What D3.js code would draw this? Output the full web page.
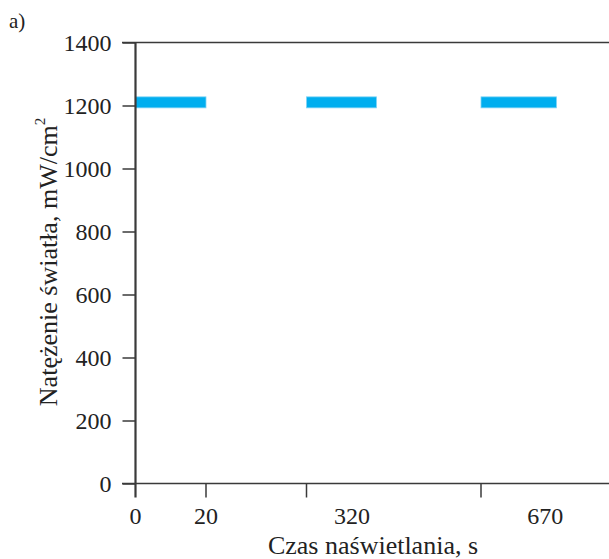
<!DOCTYPE html>
<html>
<head>
<meta charset="utf-8">
<script src="https://cdn.jsdelivr.net/npm/d3@7"></script>
<style>
  body { margin: 0; background: #fff; }
  svg text { font-family: "Liberation Serif", "DejaVu Serif", serif; fill: #222; }
</style>
</head>
<body>
<div id="chart"></div>
<script>
////////////////////////////////////////////////////
// data
////////////////////////////////////////////////////
var segStart = [0, 300, 650];          // s, start of each lit period (axis is broken)
var segEnd   = [20, 320, 670];         // s, end of each lit period
var intensity = [1210, 1210, 1210];    // mW/cm2
var xTickMarks = [0, 20, 300, 650];
var xTickValues = [0, 20, 313, 667];
var xTickLabels = ["0", "20", "320", "670"];
var yTicks = [0, 200, 400, 600, 800, 1000, 1200, 1400];
////////////////////////////////////////////////////

var W = 609, H = 559;
var axisCol = "#3a3a3a";
var fs = 24;     // tick labels
var fsT = 26;    // axis titles

var svg = d3.select("#chart").append("svg")
	.attr("width", W)
	.attr("height", H);

// broken time axis: piecewise linear
var x = d3.scaleLinear()
	.domain([0, 20, 300, 320, 650, 670])
	.range([135.5, 206, 306.5, 376.5, 481, 556.5]);

var y = d3.scaleLinear()
	.domain([0, 1400])
	.range([483.5, 42.5]);

// top frame line
svg.append("line")
	.attr("x1", 122).attr("x2", W)
	.attr("y1", y(1400)).attr("y2", y(1400))
	.attr("stroke", axisCol).attr("stroke-width", 1.5);

// bars
svg.append("g").selectAll("rect")
	.data(segStart)
	.enter().append("rect")
		.attr("x", function(d, i) { return x(d); })
		.attr("y", function(d, i) { return y(intensity[i]) - 5.5; })
		.attr("width", function(d, i) { return x(segEnd[i]) - x(d); })
		.attr("height", 11)
		.attr("fill", "#00aeef")
		.attr("stroke", "#7fd4f5")
		.attr("stroke-width", 0.8);

// y axis
var yAxis = svg.append("g")
	.attr("transform", "translate(" + x(0) + ",0)")
	.call(d3.axisLeft(y).tickValues(yTicks).tickSize(13).tickPadding(11).tickFormat(d3.format("d")));
yAxis.select(".domain").remove();
yAxis.attr("font-family", null);
yAxis.selectAll(".tick line").attr("stroke", axisCol).attr("stroke-width", 1.5);
yAxis.selectAll(".tick text").attr("font-size", fs).attr("fill", "#222");

svg.append("line")
	.attr("x1", x(0)).attr("x2", x(0))
	.attr("y1", y(1400)).attr("y2", y(0) + 14)
	.attr("stroke", axisCol).attr("stroke-width", 2.2);

// x axis
svg.append("line")
	.attr("x1", 122).attr("x2", W)
	.attr("y1", y(0)).attr("y2", y(0))
	.attr("stroke", axisCol).attr("stroke-width", 1.5);

svg.append("g").selectAll("line")
	.data(xTickMarks.slice(1))
	.enter().append("line")
		.attr("x1", function(d) { return x(d); })
		.attr("x2", function(d) { return x(d); })
		.attr("y1", y(0))
		.attr("y2", y(0) + 14)
		.attr("stroke", axisCol).attr("stroke-width", 1.5);

svg.append("g").selectAll("text")
	.data(xTickValues)
	.enter().append("text")
		.attr("x", function(d) { return x(d); })
		.attr("y", y(0) + 40)
		.attr("text-anchor", "middle")
		.attr("font-size", fs)
		.text(function(d, i) { return xTickLabels[i]; });

// axis titles
svg.append("text")
	.attr("x", 373)
	.attr("y", 554)
	.attr("text-anchor", "middle")
	.attr("font-size", fsT)
	.text("Czas naświetlania, s");

var yt = svg.append("text")
	.attr("transform", "translate(57,262) rotate(-90)")
	.attr("text-anchor", "middle")
	.attr("font-size", fsT);
yt.append("tspan").text("Natężenie światła, mW/cm");
yt.append("tspan").attr("dy", -12).attr("font-size", 15).text("2");

svg.append("text")
	.attr("x", 9)
	.attr("y", 28)
	.attr("font-size", 21)
	.text("a)");
</script>
</body>
</html>
